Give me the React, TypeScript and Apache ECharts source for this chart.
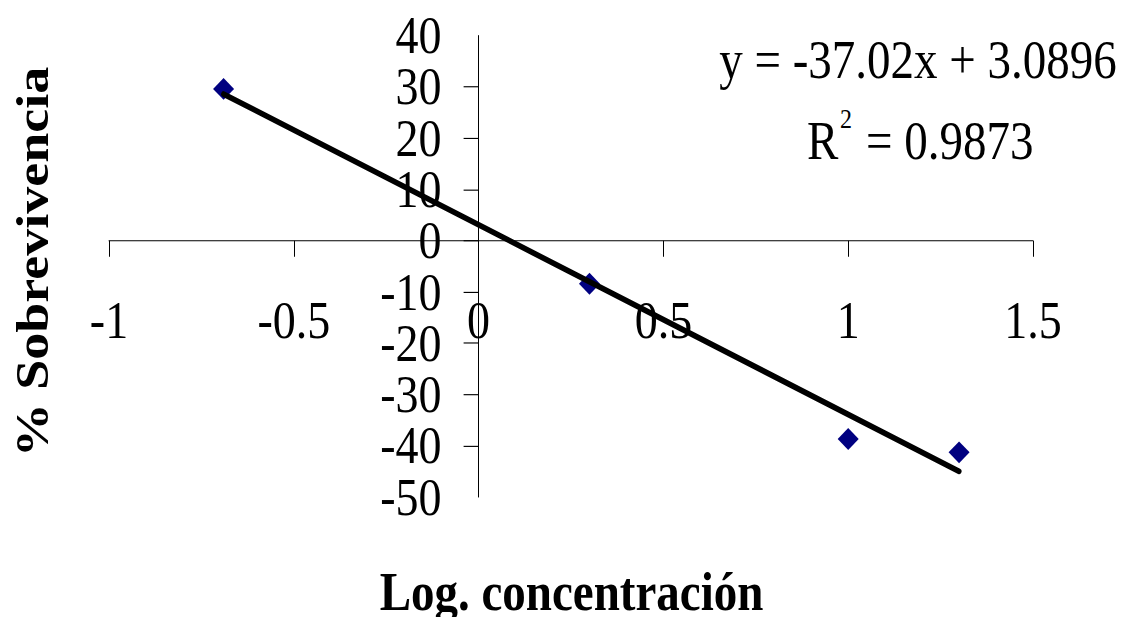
import React, { useEffect, useRef } from "react";
import * as echarts from "echarts";

// Data
const logConcentration = [-0.69, 0.3, 1.0, 1.3];
const survivalPct = [29.6, -8.4, -38.7, -41.3];
// Linear trendline end points (as drawn)
const trendX = [-0.69, 1.3];
const trendY = [28.6, -45.0];

const equationText = "y = -37.02x + 3.0896";
const r2Base = "R";
const r2Sup = "2";
const r2Value = "= 0.9873";
const xTitle = "Log. concentración";
const yTitle = "% Sobrevivencia";

const X_MIN = -1;
const X_MAX = 1.5;
const Y_MIN = -50;
const Y_MAX = 40;
// end labels of the y axis, drawn as graphic texts at the axis' own positions
const yEndLabels = [Y_MAX, Y_MIN];

const W = 1129;
const H = 617;
const STRETCH = 1.149;
const CH = H / STRETCH;

const GRID_LEFT = 109;
const GRID_RIGHT = 96;
const GRID_TOP = 31;
const GRID_BOTTOM_Y = 432.5;
const Y_LABEL_MARGIN = 37;

export default function App() {
  const ref = useRef<HTMLDivElement>(null);

  useEffect(() => {
    const chart = echarts.init(ref.current!, null, { renderer: "svg" });
    const font = '"Liberation Serif", "Times New Roman", serif';

    const scatterData = logConcentration.map((x, i) => [x, survivalPct[i]]);
    const trendData = trendX.map((x, i) => [x, trendY[i]]);

    const gridW = W - GRID_LEFT - GRID_RIGHT;
    const gridH = GRID_BOTTOM_Y - GRID_TOP;
    // place axes (with labels) at the zero crossings
    const zeroY = GRID_TOP + (gridH * Y_MAX) / (Y_MAX - Y_MIN);
    const zeroX = GRID_LEFT + (gridW * (0 - X_MIN)) / (X_MAX - X_MIN);

    chart.setOption({
      animation: false,
      backgroundColor: "#ffffff",
      grid: { left: GRID_LEFT, right: GRID_RIGHT, top: GRID_TOP, bottom: CH - GRID_BOTTOM_Y, containLabel: false },
      xAxis: {
        type: "value",
        min: X_MIN,
        max: X_MAX,
        interval: 0.5,
        offset: -(GRID_BOTTOM_Y - zeroY),
        axisLine: { onZero: false, lineStyle: { color: "#000", width: 1 } },
        axisTick: { show: true, inside: false, length: 14, lineStyle: { color: "#000", width: 1 } },
        axisLabel: {
          fontFamily: font,
          fontSize: 46,
          lineHeight: 28,
          color: "#000",
          margin: 55,
          showMinLabel: true,
          showMaxLabel: true,
          hideOverlap: false,
        },
        splitLine: { show: false },
      },
      yAxis: {
        type: "value",
        min: Y_MIN,
        max: Y_MAX,
        interval: 10,
        offset: -(zeroX - GRID_LEFT),
        axisLine: { onZero: false, lineStyle: { color: "#000", width: 1 } },
        axisTick: { show: true, inside: false, length: 15, lineStyle: { color: "#000", width: 1 } },
        axisLabel: {
          fontFamily: font,
          fontSize: 46,
          color: "#000",
          margin: Y_LABEL_MARGIN,
          showMinLabel: false,
          showMaxLabel: false,
          hideOverlap: false,
        },
        splitLine: { show: false },
      },
      series: [
        {
          type: "scatter",
          data: scatterData,
          symbol: "diamond",
          symbolSize: [21, 19],
          itemStyle: { color: "#000080", opacity: 1 },
          z: 2,
        },
        {
          type: "line",
          data: trendData,
          showSymbol: false,
          symbol: "none",
          lineStyle: { color: "#000", width: 5, cap: "round" },
          z: 3,
        },
      ],
    });

    const axisX = chart.convertToPixel({ xAxisIndex: 0 }, 0) as number;
    const endLabelTexts = yEndLabels.map((v) => ({
      type: "text",
      x: axisX - Y_LABEL_MARGIN,
      y: chart.convertToPixel({ yAxisIndex: 0 }, v) as number,
      style: {
        text: String(v),
        font: `46px ${font}`,
        fill: "#000",
        textAlign: "right",
        textVerticalAlign: "middle",
        align: "right",
        verticalAlign: "middle",
      },
    }));

    chart.setOption({
      graphic: [
        ...endLabelTexts,
        {
          type: "text",
          x: 32,
          y: 228,
          rotation: Math.PI / 2,
          style: {
            text: yTitle,
            font: `bold 47px ${font}`,
            fill: "#000",
            textAlign: "center",
            textVerticalAlign: "middle",
            align: "center",
            verticalAlign: "middle",
          },
        },
        {
          type: "text",
          x: 571.5,
          y: 515,
          style: {
            text: xTitle,
            font: `bold 47px ${font}`,
            fill: "#000",
            textAlign: "center",
            textVerticalAlign: "middle",
            align: "center",
            verticalAlign: "middle",
          },
        },
        {
          type: "text",
          x: 918,
          y: 52.2,
          style: {
            text: equationText,
            font: `47px ${font}`,
            fill: "#000",
            textAlign: "center",
            textVerticalAlign: "middle",
            align: "center",
            verticalAlign: "middle",
          },
        },
        {
          type: "text",
          x: 807,
          y: 122.5,
          style: {
            text: r2Base,
            font: `47px ${font}`,
            fill: "#000",
            textAlign: "left",
            textVerticalAlign: "middle",
            align: "left",
            verticalAlign: "middle",
          },
        },
        {
          type: "text",
          x: 840,
          y: 103.6,
          style: {
            text: r2Sup,
            font: `24px ${font}`,
            fill: "#000",
            textAlign: "left",
            textVerticalAlign: "middle",
            align: "left",
            verticalAlign: "middle",
          },
        },
        {
          type: "text",
          x: 866,
          y: 122.5,
          style: {
            text: r2Value,
            font: `47px ${font}`,
            fill: "#000",
            textAlign: "left",
            textVerticalAlign: "middle",
            align: "left",
            verticalAlign: "middle",
          },
        },
      ],
    });

    return () => chart.dispose();
  }, []);

  return (
    <div
      style={{
        position: "fixed",
        left: 0,
        top: 0,
        width: W,
        height: H,
        overflow: "hidden",
        background: "#fff",
      }}
    >
      <div
        ref={ref}
        style={{
          width: W,
          height: CH,
          transform: `scaleY(${STRETCH})`,
          transformOrigin: "0 0",
        }}
      />
    </div>
  );
}
